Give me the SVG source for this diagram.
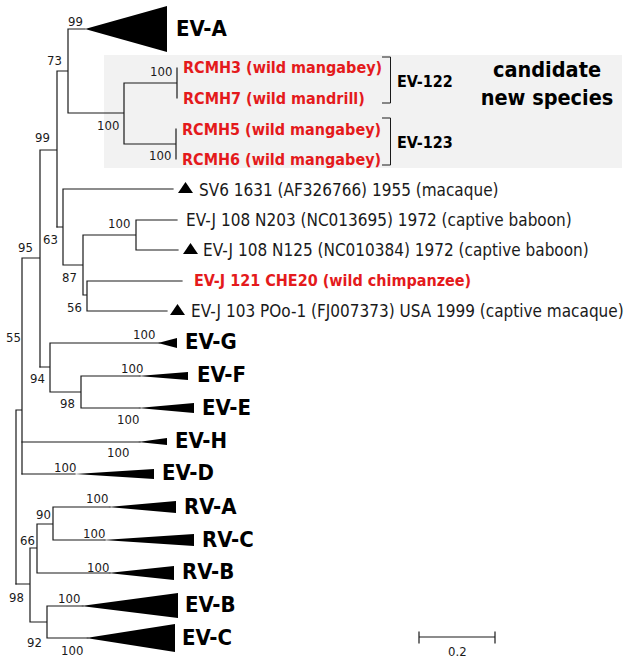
<svg xmlns="http://www.w3.org/2000/svg" width="628" height="663" viewBox="0 0 628 663">
<style>
.br{stroke:#1a1a1a;stroke-width:1.2;fill:none;stroke-linecap:square}
.bk{stroke:#1a1a1a;stroke-width:1;fill:none}
.tri{fill:#000}
text{font-family:'DejaVu Sans Condensed','DejaVu Sans',sans-serif;font-stretch:condensed}
.s{font-size:13px;fill:#1a1a1a}
.l{font-size:17px;fill:#1a1a1a}
.r{font-size:16px;font-weight:bold;fill:#e41a1c}
.c{font-size:22px;font-weight:bold;fill:#000}
.g{font-size:16px;font-weight:bold;fill:#000}
.h{font-size:21.5px;font-weight:bold;fill:#000;text-anchor:middle}
</style>
<defs>
<polygon id="mk" points="0,11 7.5,0 15,11" fill="#000"/>
</defs>
<rect id="box" x="104" y="55" width="518" height="113" fill="#f2f2f2"/>
<g id="connectors" class="br">
<path d="M16,410V584M16,410H22M22,258V474M22,258H40M40,150V367M40,150H57M57,71V227M57,71H68M68,29V113M68,29H85M68,113H124M124,83V144M124,83H177M124,144H176M177,68V98M176,129V159"/>
<path d="M57,227H63M63,189V265M63,189H173M63,265H83M83,235V295M83,235H136M136,220V250M136,220H177M136,250H178M83,295H87M87,281V311M87,281H182M87,311H167"/>
<path d="M40,367H50M50,343V392M50,343H160M50,392H81M81,376V408M81,376H140M81,408H140M22,442H140M22,474H75"/>
<path d="M16,584H30M30,548V622M30,548H37M37,524V573M37,524H53M53,507V540M53,507H110M53,540H105M37,573H110M30,622H47M47,606V638M47,606H83M47,638H88"/>
</g>
<g id="brackets" class="bk">
<path d="M382,57H390.5V103H382"/>
<path d="M382,118H390.5V165H382"/>
</g>
<g id="EV-A"><polygon class="tri" points="85,29 167,6 167,52"/><text class="c" x="176" y="36">EV-A</text></g>
<g id="EV-G"><polygon class="tri" points="158,343 177,338 177,348"/><text class="c" x="185" y="349">EV-G</text></g>
<g id="EV-F"><polygon class="tri" points="138,376 188,372 188,380"/><text class="c" x="197" y="382">EV-F</text></g>
<g id="EV-E"><polygon class="tri" points="138,408 194,403 194,413"/><text class="c" x="202" y="415">EV-E</text></g>
<g id="EV-H"><polygon class="tri" points="138,442 167,438 167,445"/><text class="c" x="175" y="448">EV-H</text></g>
<g id="EV-D"><polygon class="tri" points="75,474 154,469 154,479"/><text class="c" x="162" y="480">EV-D</text></g>
<g id="RV-A"><polygon class="tri" points="108,507 176,501 176,513"/><text class="c" x="184" y="514">RV-A</text></g>
<g id="RV-C"><polygon class="tri" points="103,540 194,534 194,546"/><text class="c" x="202" y="547">RV-C</text></g>
<g id="RV-B"><polygon class="tri" points="108,573 174,566 174,580"/><text class="c" x="182" y="579">RV-B</text></g>
<g id="EV-B"><polygon class="tri" points="81,606 178,593 178,618"/><text class="c" x="185" y="612">EV-B</text></g>
<g id="EV-C"><polygon class="tri" points="86,638 175,624 175,652"/><text class="c" x="182" y="645">EV-C</text></g>
<g id="RCMH3"><text class="r" x="183" y="73">RCMH3 (wild mangabey)</text></g>
<g id="RCMH7"><text class="r" x="183" y="104">RCMH7 (wild mandrill)</text></g>
<g id="RCMH5"><text class="r" x="182" y="135">RCMH5 (wild mangabey)</text></g>
<g id="RCMH6"><text class="r" x="182" y="165">RCMH6 (wild mangabey)</text></g>
<g id="EV-122"><text class="g" x="397" y="87">EV-122</text></g>
<g id="EV-123"><text class="g" x="397" y="148">EV-123</text></g>
<g id="candidate"><text class="h" x="547" y="77">candidate</text><text class="h" x="547" y="105">new species</text></g>
<g id="SV6"><use href="#mk" x="178" y="182"/><text class="l" x="199" y="196">SV6 1631 (AF326766) 1955 (macaque)</text></g>
<g id="N203"><text class="l" x="186" y="226">EV-J 108 N203 (NC013695) 1972 (captive baboon)</text></g>
<g id="N125"><use href="#mk" x="183" y="243"/><text class="l" x="203" y="256">EV-J 108 N125 (NC010384) 1972 (captive baboon)</text></g>
<g id="CHE20"><text class="r" x="194" y="286">EV-J 121 CHE20 (wild chimpanzee)</text></g>
<g id="POo-1"><use href="#mk" x="170" y="304"/><text class="l" x="191" y="317">EV-J 103 POo-1 (FJ007373) USA 1999 (captive macaque)</text></g>
<g id="support">
<text class="s" x="68" y="26">99</text>
<text class="s" x="47" y="65">73</text>
<text class="s" x="150" y="76">100</text>
<text class="s" x="97" y="130">100</text>
<text class="s" x="149" y="160">100</text>
<text class="s" x="35" y="142">99</text>
<text class="s" x="43" y="244">63</text>
<text class="s" x="18" y="252">95</text>
<text class="s" x="108" y="228">100</text>
<text class="s" x="62" y="282">87</text>
<text class="s" x="67" y="312">56</text>
<text class="s" x="6" y="342">55</text>
<text class="s" x="133" y="339">100</text>
<text class="s" x="30" y="383">94</text>
<text class="s" x="121" y="373">100</text>
<text class="s" x="60" y="408">98</text>
<text class="s" x="117" y="424">100</text>
<text class="s" x="107" y="457">100</text>
<text class="s" x="54" y="472">100</text>
<text class="s" x="86" y="503">100</text>
<text class="s" x="36" y="519">90</text>
<text class="s" x="83" y="538">100</text>
<text class="s" x="20" y="545">66</text>
<text class="s" x="87" y="572">100</text>
<text class="s" x="9" y="602">98</text>
<text class="s" x="58" y="603">100</text>
<text class="s" x="27" y="647">92</text>
<text class="s" x="61" y="655">100</text>
</g>
<g id="scale">
<path class="br" d="M419,637H495M419,632V643M495,632V643"/>
<text class="s" x="448" y="656">0.2</text>
</g>
</svg>
